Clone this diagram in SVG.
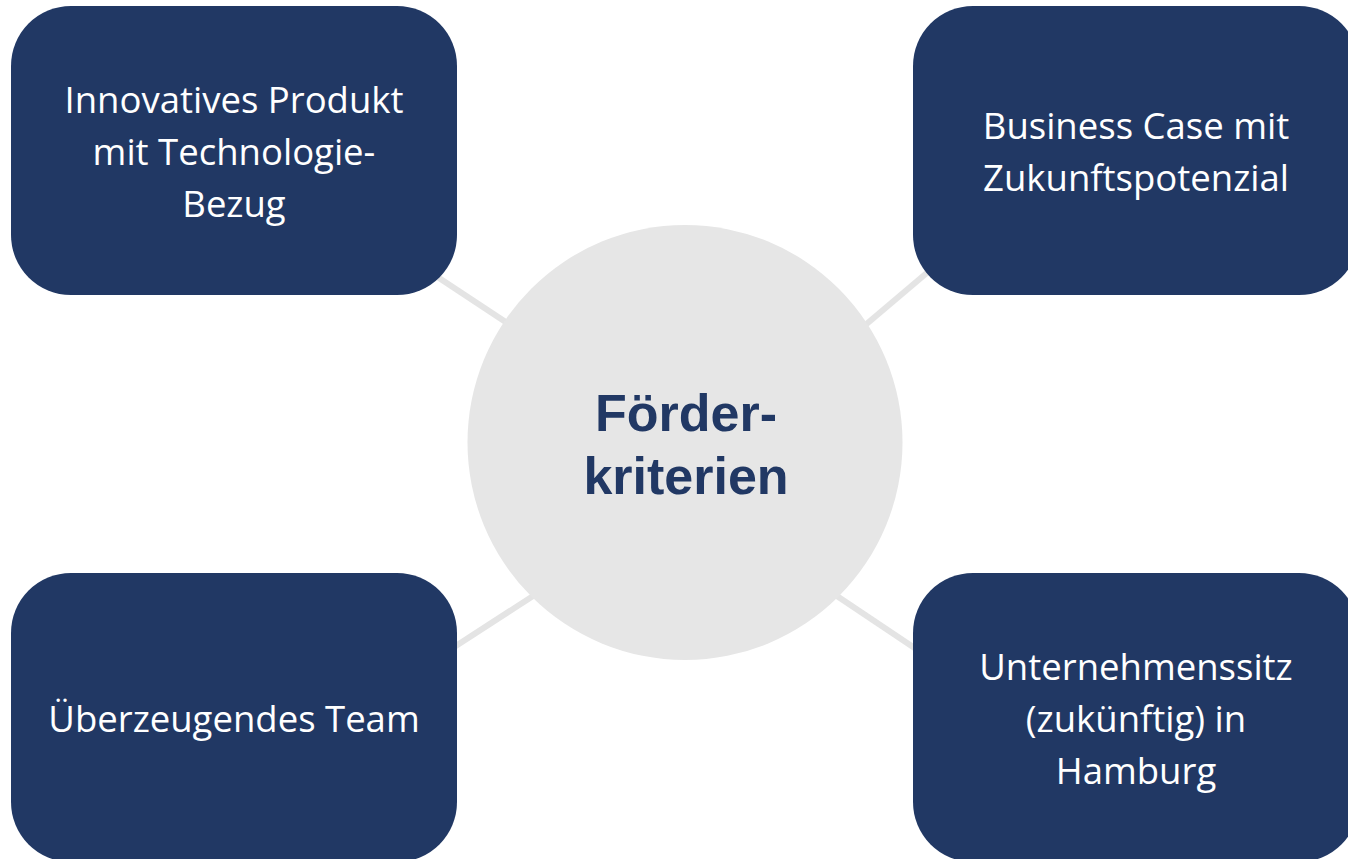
<svg xmlns="http://www.w3.org/2000/svg" width="1348" height="859" viewBox="0 0 1348 859">
<style>
.box{fill:#213864;}
.bt{fill:#ffffff;font-family:"Open Sans","Noto Sans",sans-serif;font-size:36.5px;text-anchor:middle;}
.conn{stroke:#E4E4E4;stroke-width:6;fill:none;}
.hub{fill:#E6E6E6;}
.ht{fill:#213864;font-family:"Liberation Sans",Arial,sans-serif;font-weight:bold;font-size:52px;text-anchor:middle;}
</style>
<rect width="1348" height="859" fill="#ffffff"/>
<g id="connectors">
<line class="conn" x1="430" y1="272" x2="530" y2="338"/>
<line class="conn" x1="935" y1="266" x2="850" y2="338"/>
<line class="conn" x1="445" y1="653" x2="550" y2="585"/>
<line class="conn" x1="925" y1="655" x2="825" y2="588"/>
</g>
<g id="hub">
<circle class="hub" cx="685" cy="442.5" r="217.5"/>
<text class="ht" x="686" y="431">Förder-</text>
<text class="ht" x="686" y="494">kriterien</text>
</g>
<g id="node-produkt">
<rect class="box" x="11" y="6" width="446" height="289" rx="60" ry="60"/>
<text class="bt" x="234" y="113">Innovatives Produkt</text>
<text class="bt" x="234" y="165">mit Technologie-</text>
<text class="bt" x="234" y="217">Bezug</text>
</g>
<g id="node-business">
<rect class="box" x="913" y="6" width="446" height="289" rx="60" ry="60"/>
<text class="bt" x="1136" y="139">Business Case mit</text>
<text class="bt" x="1136" y="191">Zukunftspotenzial</text>
</g>
<g id="node-team">
<rect class="box" x="11" y="573" width="446" height="289" rx="60" ry="60"/>
<text class="bt" x="234" y="732">Überzeugendes Team</text>
</g>
<g id="node-sitz">
<rect class="box" x="913" y="573" width="446" height="289" rx="60" ry="60"/>
<text class="bt" x="1136" y="680">Unternehmenssitz</text>
<text class="bt" x="1136" y="732">(zukünftig) in</text>
<text class="bt" x="1136" y="784">Hamburg</text>
</g>
</svg>
